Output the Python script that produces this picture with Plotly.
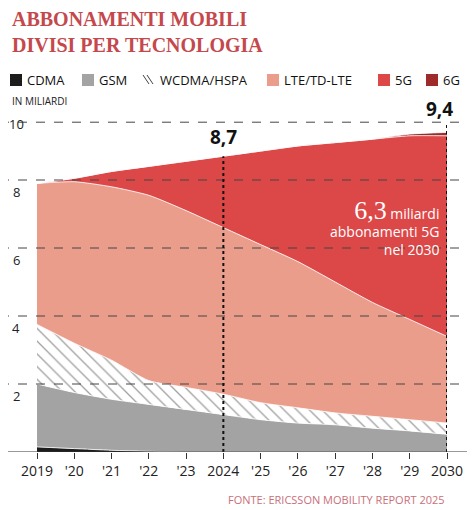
import plotly.graph_objects as go

years = list(range(2019, 2031))
tick_text = ["2019", "'20", "'21", "'22", "'23", "2024", "'25", "'26", "'27", "'28", "'29", "2030"]

cdma = [0.15, 0.1, 0.05, 0.02, 0, 0, 0, 0, 0, 0, 0, 0]
gsm = [1.85, 1.65, 1.5, 1.38, 1.25, 1.1, 0.95, 0.85, 0.8, 0.7, 0.62, 0.52]
wcdma = [1.75, 1.45, 1.15, 0.7, 0.65, 0.6, 0.5, 0.45, 0.35, 0.35, 0.33, 0.33]
lte = [4.15, 4.75, 5.1, 5.45, 5.2, 4.9, 4.65, 4.3, 3.85, 3.35, 2.95, 2.55]
g5 = [0, 0.1, 0.45, 0.85, 1.45, 2.1, 2.75, 3.4, 4.1, 4.8, 5.4, 5.9]
g6 = [0, 0, 0, 0, 0, 0, 0, 0, 0, 0, 0.05, 0.1]

series = [
    ("CDMA", cdma, "#1c1c1c"),
    ("GSM", gsm, "#a3a3a3"),
    ("WCDMA/HSPA", wcdma, "white"),
    ("LTE/TD-LTE", lte, "#eb9d8b"),
    ("5G", g5, "#dc4848"),
    ("6G", g6, "#9e2a2a"),
]

fig = go.Figure()
for name, vals, col in series:
    kw = {}
    if name == "WCDMA/HSPA":
        kw["fillpattern"] = dict(shape="\\", fgcolor="#444444", bgcolor="white", size=9, solidity=0.15)
    fig.add_trace(go.Scatter(x=years, y=vals, name=name, stackgroup="one", mode="lines",
                             line=dict(width=0.8, color="white", shape="spline", smoothing=0.6),
                             fillcolor=col, **kw))

totals = [sum(v) for v in zip(cdma, gsm, wcdma, lte, g5, g6)]

# page offset (browser body margin)
OFF = 8
W, H = 475 - OFF, 510 - OFF
L, R, T, B = 37 - OFF, 447 - OFF, 112 - OFF, 452 - OFF

# page-pixel -> paper coords
def px(x):
    return (x - OFF - L) / (R - L)
def py(y):
    return (B - (y - OFF)) / (B - T)

dash_col = "#444444"
for v in [2, 4, 6, 8, 9.7]:
    fig.add_shape(type="line", xref="paper", yref="y", x0=px(0), x1=px(475), y0=v, y1=v,
                  line=dict(color=dash_col, width=1, dash="dash"), layer="above")
for yr, top in [(2024, totals[5]), (2030, 9.7)]:
    fig.add_shape(type="line", x0=yr, x1=yr, y0=0, y1=top,
                  line=dict(color="#111111", width=2, dash="dot"), layer="above")

ann = []
for v in [2, 4, 6, 8, 10]:
    ann.append(dict(xref="paper", yref="y", x=px(16), y=v, text=str(v), showarrow=False,
                    xanchor="center", yanchor="top", yshift=-1, font=dict(size=13, color="#222")))

# manual legend
leg = [("CDMA", 10, "#1c1c1c"), ("GSM", 82, "#a3a3a3"), ("WCDMA/HSPA", 143, None),
       ("LTE/TD-LTE", 267, "#eb9d8b"), ("5G", 378, "#dc4848"), ("6G", 426, "#9e2a2a")]
for name, x0, col in leg:
    if col:
        fig.add_shape(type="rect", xref="paper", yref="paper", x0=px(x0), x1=px(x0 + 12),
                      y0=py(86), y1=py(74), fillcolor=col, line=dict(width=0))
    else:
        for d in (0, 4):
            fig.add_shape(type="line", xref="paper", yref="paper", x0=px(x0 + d), x1=px(x0 + d + 6),
                          y0=py(75), y1=py(84), line=dict(color="#444", width=1))
    ann.append(dict(xref="paper", yref="paper", x=px(x0 + 15), y=py(80), text=name, showarrow=False,
                    xanchor="left", yanchor="middle", font=dict(size=13, color="#111")))

ann += [
    dict(xref="paper", yref="paper", x=px(10), y=py(6), xanchor="left", yanchor="top", align="left",
         showarrow=False, text="<b>ABBONAMENTI MOBILI<br>DIVISI PER TECNOLOGIA</b>",
         font=dict(family="Liberation Serif", size=20, color="#c4484c")),
    dict(x=2024, y=totals[5], text="<b>8,7</b>", showarrow=False, yanchor="bottom", yshift=4,
         font=dict(size=19, color="#111")),
    dict(x=2030, y=9.7, text="<b>9,4</b>", showarrow=False, yanchor="bottom", xanchor="right", xshift=8,
         yshift=-2, font=dict(size=19, color="#111")),
    dict(xref="paper", yref="paper", x=px(10), y=py(101), text="IN MILIARDI", showarrow=False,
         xanchor="left", yanchor="middle", font=dict(size=10, color="#222")),
    dict(x=2029.85, y=7.6, xanchor="right", yanchor="top", showarrow=False, align="right",
         text="<span style='font-family:Liberation Serif;font-size:26px'>6,3</span> miliardi<br>abbonamenti 5G<br>nel 2030",
         font=dict(size=14, color="white")),
    dict(x=2027.2, y=-1.05, text="previsioni", showarrow=False, font=dict(size=14, color="#222")),
    dict(xref="paper", yref="paper", x=px(447), y=py(499), text="FONTE: ERICSSON MOBILITY REPORT 2025",
         showarrow=False, xanchor="right", yanchor="middle", font=dict(size=11, color="#c8707a")),
]
for x0, x1 in [(2024, 2026.4), (2028.0, 2030)]:
    fig.add_shape(type="line", x0=x0, x1=x1, y0=-1.0, y1=-1.0, line=dict(color="#666", width=1))
fig.add_shape(type="line", xref="paper", x0=px(0), x1=px(475), y0=0, y1=0, line=dict(color="#333", width=1.2))

fig.update_layout(
    width=W, height=H, margin=dict(l=L, r=W - R, t=T, b=H - B, autoexpand=False),
    paper_bgcolor="white", plot_bgcolor="white",
    font=dict(family="Open Sans, sans-serif", color="#222"),
    showlegend=False,
    xaxis=dict(range=[2019, 2030], tickvals=years, ticktext=tick_text, showgrid=False,
               ticks="outside", ticklen=6, tickcolor="#333", tickfont=dict(size=14), zeroline=False),
    yaxis=dict(range=[0, 10], showgrid=False, showticklabels=False, zeroline=False),
    annotations=ann,
)
fig.write_html("out.html")
